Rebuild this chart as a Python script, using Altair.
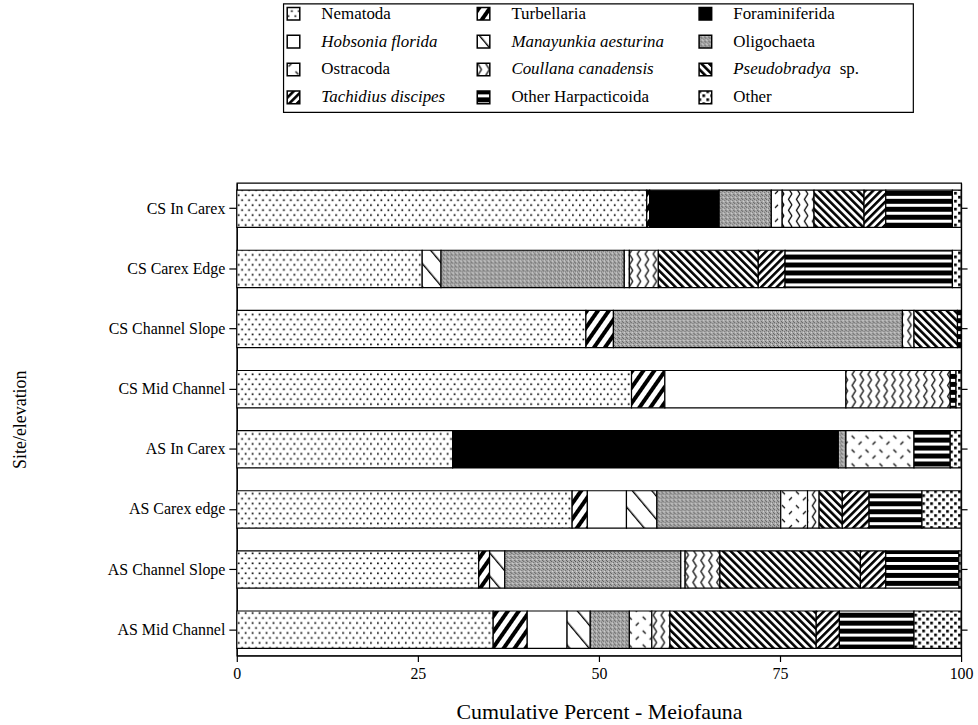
import altair as alt
import pandas as pd
import jinja2

# ---- data -------------------------------------------------------------
sites = ["CS In Carex", "CS Carex Edge", "CS Channel Slope", "CS Mid Channel",
         "AS In Carex", "AS Carex edge", "AS Channel Slope", "AS Mid Channel"]

taxa = ["Nematoda", "Turbellaria", "Foraminiferida", "Hobsonia florida",
        "Manayunkia aesturina", "Oligochaeta", "Ostracoda", "Coullana canadensis",
        "Pseudobradya sp.", "Tachidius discipes", "Other Harpacticoida", "Other"]

# percent of meiofauna at each site (site order as above)
nematoda = [56.6, 25.6, 48.2, 54.5, 29.8, 46.3, 33.4, 35.4]
turbellaria = [0.4, 0.0, 3.8, 4.6, 0.0, 2.1, 1.5, 4.7]
foraminiferida = [9.6, 0.0, 0.0, 0.0, 53.25, 0.0, 0.0, 0.0]
hobsonia = [0.0, 0.0, 0.0, 25.0, 0.0, 5.4, 0.0, 5.5]
manayunkia = [0.0, 2.6, 0.0, 0.0, 0.0, 4.2, 2.1, 3.2]
oligochaeta = [7.2, 25.3, 39.9, 0.0, 1.05, 17.1, 24.3, 5.4]
ostracoda = [1.5, 0.7, 0.0, 0.0, 9.4, 3.7, 0.6, 3.1]
coullana = [4.4, 4.0, 1.6, 14.4, 0.0, 1.6, 4.8, 2.5]
pseudobradya = [6.9, 13.8, 6.0, 0.0, 0.0, 3.2, 19.4, 20.2]
tachidius = [3.0, 3.7, 0.0, 0.0, 0.0, 3.7, 3.5, 3.2]
other_harp = [9.2, 23.1, 0.5, 0.8, 5.0, 7.3, 10.1, 10.3]
other = [1.2, 1.2, 0.0, 0.7, 1.5, 5.4, 0.3, 6.5]

series = [nematoda, turbellaria, foraminiferida, hobsonia, manayunkia, oligochaeta,
          ostracoda, coullana, pseudobradya, tachidius, other_harp, other]

# legend text (taxon names set in italics where they are genus/species)
legend_text = ["Nematoda", "Turbellaria", "Foraminiferida", "Hobsonia florida",
               "Manayunkia aesturina", "Oligochaeta", "Ostracoda", "Coullana canadensis",
               "Pseudobradya", "Tachidius discipes", "Other Harpacticoida", "Other"]
legend_suffix = ["", "", "", "", "", "", "", "", "sp.", "", "", ""]
legend_italic = [False, False, False, True, True, False, False, True, True, True, False, False]

# ---- fills (SVG hatch patterns defined in the page) ---------------------
fills = ["url(#nem)", "url(#tur)", "#000000", "#ffffff", "url(#man)", "url(#oli)",
         "url(#ost)", "url(#cou)", "url(#pse)", "url(#tac)", "url(#oh)", "url(#oth)"]

rows = []
for k, (name, vals) in enumerate(zip(taxa, series)):
    for site, v in zip(sites, vals):
        rows.append({"site": site, "taxon": name, "rank": k, "pct": v})
df = pd.DataFrame(rows)

leg = pd.DataFrame({
    "taxon": taxa,
    "label": legend_text,
    "suffix": legend_suffix,
    "italic": legend_italic,
    "row": [i // 3 for i in range(len(taxa))],
    "col": [i % 3 for i in range(len(taxa))],
})

fill_scale = alt.Scale(domain=taxa, range=fills)
serif = "Liberation Serif"

# ---- stacked bars -------------------------------------------------------
y_scale = alt.Scale(domain=sites, paddingInner=0.38, paddingOuter=0.12)

bars = alt.Chart(df).transform_filter("datum.pct > 0").mark_bar(
    stroke="black", strokeWidth=1.2
).encode(
    x=alt.X("pct:Q", stack="zero",
            scale=alt.Scale(domain=[0, 100], nice=False, zero=True),
            axis=alt.Axis(values=[0, 25, 50, 75, 100], title="Cumulative Percent - Meiofauna",
                          tickSize=6, labelPadding=4, titlePadding=20, labelFlush=False,
                          labelFontSize=16, titleFontSize=22)),
    y=alt.Y("site:N", sort=sites, scale=y_scale,
            axis=alt.Axis(title="Site/elevation", tickSize=8, labelPadding=4,
                          titlePadding=78, labelFontSize=16, titleFontSize=18)),
    fill=alt.Fill("taxon:N", scale=fill_scale, legend=None),
    order=alt.Order("rank:Q"),
)

right_ticks = alt.Chart(df).mark_point(opacity=0).encode(
    y=alt.Y("site:N", sort=sites, scale=y_scale,
            axis=alt.Axis(orient="right", labels=False, title=None, tickSize=6)),
)

plot = alt.layer(bars, right_ticks).resolve_axis(y="independent")

# ---- legend box -----------------------------------------------------------
lx = alt.X("col:Q", scale=alt.Scale(domain=[0, 1, 2], range=[57, 248, 471], nice=False, zero=False), axis=None)
ly = alt.Y("row:Q", scale=alt.Scale(domain=[0, 3], range=[-170, -86], nice=False, zero=False), axis=None)

box = alt.Chart(pd.DataFrame({"k": [0]})).mark_rect(
    filled=False, stroke="black", strokeWidth=1.2
).encode(x=alt.value(47), x2=alt.value(680), y=alt.value(-180), y2=alt.value(-71))

symbols = alt.Chart(leg).mark_square(size=160, stroke="black", strokeWidth=1.5, opacity=1).encode(
    x=lx, y=ly, fill=alt.Fill("taxon:N", scale=fill_scale, legend=None)
)

text_plain = alt.Chart(leg).transform_filter("!datum.italic").mark_text(
    align="left", baseline="middle", dx=28, font=serif, fontSize=17, color="black"
).encode(x=lx, y=ly, text="label:N")

text_italic = alt.Chart(leg).transform_filter("datum.italic").mark_text(
    align="left", baseline="middle", dx=28, font=serif, fontSize=17, fontStyle="italic", color="black"
).encode(x=lx, y=ly, text="label:N")

text_suffix = alt.Chart(leg).transform_filter("datum.suffix != ''").mark_text(
    align="left", baseline="middle", dx=135, font=serif, fontSize=17, color="black"
).encode(x=lx, y=ly, text="suffix:N")

legend = alt.layer(box, symbols, text_plain, text_italic, text_suffix)

chart = alt.layer(plot, legend).resolve_scale(
    x="independent", y="independent"
).properties(
    width=728, height=475,
    padding={"left": 11, "top": 1, "right": 5, "bottom": 3},
    background="white",
).configure_view(
    stroke="black", strokeWidth=1.2
).configure_axis(
    labelFont=serif, titleFont=serif, labelColor="black", titleColor="black",
    domainColor="black", tickColor="black", grid=False, titleFontWeight="normal",
    domainWidth=1.2, tickWidth=1.2,
).configure_text(font=serif)

# page with the hatch patterns used as bar fills
PAGE = jinja2.Template("""<!DOCTYPE html>
<html>
<head>
  <style>
    body { margin: 0; }
    #{{ output_div }}.vega-embed { width: 100%; display: flex; }
  </style>
  <script type="text/javascript" src="{{ base_url }}/vega@{{ vega_version }}"></script>
  <script type="text/javascript" src="{{ base_url }}/vega-lite@{{ vegalite_version }}"></script>
  <script type="text/javascript" src="{{ base_url }}/vega-embed@{{ vegaembed_version }}"></script>
</head>
<body>
<svg width="0" height="0" style="position:absolute;left:0;top:0">
  <defs>
    <pattern id="nem" width="7" height="10" patternUnits="userSpaceOnUse">
      <rect width="7" height="10" fill="#fff"/>
      <rect x="1" y="1.5" width="1.7" height="1.7" fill="#000"/>
      <rect x="4.5" y="6.5" width="1.7" height="1.7" fill="#000"/>
    </pattern>
    <pattern id="tur" width="9" height="9" patternUnits="userSpaceOnUse" patternTransform="rotate(35)">
      <rect width="9" height="9" fill="#fff"/><rect width="4" height="9" fill="#000"/>
    </pattern>
    <pattern id="man" width="15" height="15" patternUnits="userSpaceOnUse" patternTransform="rotate(-40)">
      <rect width="15" height="15" fill="#fff"/><rect width="1.4" height="15" fill="#000"/>
    </pattern>
    <pattern id="oli" width="4" height="4" patternUnits="userSpaceOnUse">
      <rect width="4" height="4" fill="#ababab"/>
      <rect x="0" y="0" width="1" height="1" fill="#555"/>
      <rect x="2" y="1" width="1" height="1" fill="#666"/>
      <rect x="1" y="2" width="1" height="1" fill="#ddd"/>
      <rect x="3" y="3" width="1" height="1" fill="#555"/>
    </pattern>
    <pattern id="ost" width="14" height="14" patternUnits="userSpaceOnUse">
      <rect width="14" height="14" fill="#fff"/>
      <path d="M2 2 L5 5 M12 8 L9 11" stroke="#000" stroke-width="1.2" fill="none"/>
    </pattern>
    <pattern id="cou" width="8" height="11" patternUnits="userSpaceOnUse">
      <rect width="8" height="11" fill="#fff"/>
      <path d="M6 0 L2.5 5.5 L6 11" stroke="#000" stroke-width="1.3" fill="none"/>
    </pattern>
    <pattern id="pse" width="5.5" height="5.5" patternUnits="userSpaceOnUse" patternTransform="rotate(-45)">
      <rect width="5.5" height="5.5" fill="#fff"/><rect width="2.6" height="5.5" fill="#000"/>
    </pattern>
    <pattern id="tac" width="5.5" height="5.5" patternUnits="userSpaceOnUse" patternTransform="rotate(45)">
      <rect width="5.5" height="5.5" fill="#fff"/><rect width="2.6" height="5.5" fill="#000"/>
    </pattern>
    <pattern id="oh" width="8" height="8" patternUnits="userSpaceOnUse">
      <rect width="8" height="8" fill="#fff"/><rect width="8" height="5" fill="#000"/>
    </pattern>
    <pattern id="oth" width="8" height="8" patternUnits="userSpaceOnUse">
      <rect width="8" height="8" fill="#fff"/>
      <rect x="1" y="1" width="2.7" height="2.7" fill="#000"/>
      <rect x="5" y="5" width="2.7" height="2.7" fill="#000"/>
    </pattern>
  </defs>
</svg>
<div id="{{ output_div }}"></div>
<script type="text/javascript">
  vegaEmbed("#{{ output_div }}", {{ spec }}, {{ embed_options }}).catch(console.error);
</script>
</body>
</html>
""")

chart.save("out.html", embed_options={"renderer": "svg", "actions": False}, template=PAGE)
